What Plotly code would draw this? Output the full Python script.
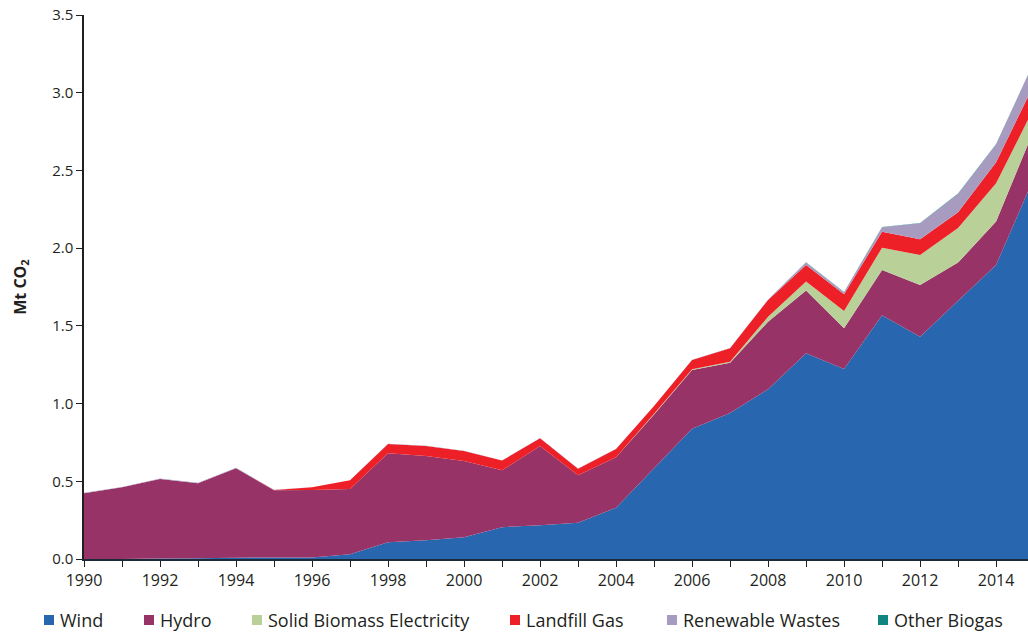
import plotly.graph_objects as go

years = list(range(1990, 2016))

wind = [0.000, 0.000, 0.003, 0.005, 0.008, 0.010, 0.010, 0.030, 0.107, 0.120,
        0.140, 0.205, 0.217, 0.234, 0.330, 0.584, 0.838, 0.940, 1.092, 1.324,
        1.223, 1.568, 1.430, 1.662, 1.892, 2.454]
hydro = [0.423, 0.461, 0.512, 0.482, 0.576, 0.432, 0.434, 0.420, 0.573, 0.543,
         0.491, 0.366, 0.510, 0.305, 0.324, 0.346, 0.378, 0.323, 0.435, 0.403,
         0.261, 0.292, 0.333, 0.245, 0.279, 0.309]
solid_biomass = [0, 0, 0, 0, 0, 0, 0, 0, 0, 0,
                 0, 0, 0, 0, 0, 0.004, 0.005, 0.006, 0.032, 0.058,
                 0.112, 0.143, 0.193, 0.223, 0.247, 0.140]
landfill_gas = [0, 0, 0, 0, 0, 0.002, 0.017, 0.056, 0.060, 0.064,
                0.064, 0.062, 0.050, 0.042, 0.054, 0.050, 0.059, 0.087, 0.108, 0.107,
                0.107, 0.103, 0.101, 0.101, 0.135, 0.152]
renewable_wastes = [0.003, 0.003, 0.003, 0.003, 0.003, 0.001, 0.001, 0.001, 0.001, 0.001,
                    0.001, 0.001, 0.001, 0.001, 0.001, 0.001, 0.002, 0.002, 0.002, 0.015,
                    0.013, 0.028, 0.103, 0.118, 0.115, 0.144]
other_biogas = [0, 0, 0, 0, 0, 0, 0, 0, 0, 0,
                0, 0, 0, 0, 0, 0, 0, 0, 0, 0.002,
                0.002, 0.002, 0.002, 0.002, 0.002, 0.002]

series_names = ["Wind", "Hydro", "Solid Biomass Electricity", "Landfill Gas",
                "Renewable Wastes", "Other Biogas"]
series_values = [wind, hydro, solid_biomass, landfill_gas, renewable_wastes, other_biogas]
series_colors = ["#2966B0", "#973366", "#B9D098", "#EE2027", "#A89BC0", "#0E8580"]

tick_years = years
tick_text = [str(y) if y % 2 == 0 else "" for y in years]
y_ticks = [0, 0.5, 1.0, 1.5, 2.0, 2.5, 3.0, 3.5]

# page layout (pixels)
W, H = 1028, 637
L, R, T, B = 84, 0, 15, 78
PW, PH = W - L - R, H - T - B

def px_x(p):
    return (p - L) / PW

def px_y(p):
    return (H - B - p) / PH

fig = go.Figure()
for name, vals, color in zip(series_names, series_values, series_colors):
    fig.add_trace(go.Scatter(
        x=years, y=vals, name=name, stackgroup="one", mode="none",
        fillcolor=color, showlegend=False, hoverinfo="x+y+name",
    ))

# legend row (square swatch + label) under the x axis
legend_left = [44, 144, 252, 510, 667, 878]
legend_cy = 620
shapes = []
annotations = []
for name, color, lx in zip(series_names, series_colors, legend_left):
    shapes.append(dict(
        type="rect", xref="paper", yref="paper",
        x0=px_x(lx), x1=px_x(lx + 10), y0=px_y(legend_cy + 5), y1=px_y(legend_cy - 5),
        fillcolor=color, line=dict(width=0),
    ))
    annotations.append(dict(
        text=name, xref="paper", yref="paper", x=px_x(lx + 14), y=px_y(legend_cy),
        xanchor="left", yanchor="middle", showarrow=False,
        font=dict(size=18, color="#231f20"),
    ))

font_family = "Open Sans, Noto Sans, sans-serif"
fig.update_layout(
    width=W, height=H,
    margin=dict(l=L, r=R, t=T, b=B),
    plot_bgcolor="white", paper_bgcolor="white",
    font=dict(family=font_family, size=15, color="#231f20"),
    showlegend=False,
    shapes=shapes,
    annotations=annotations,
    xaxis=dict(
        range=[1990, 2014.84], tickvals=tick_years, ticktext=tick_text,
        ticks="outside", ticklen=6, tickwidth=1, tickcolor="#231f20",
        showline=True, linecolor="#1c2b3a", linewidth=2,
        showgrid=False, zeroline=False, automargin=False,
        tickfont=dict(size=16),
    ),
    yaxis=dict(
        range=[0, 3.5], tickvals=y_ticks, tickformat=".1f",
        ticks="outside", ticklen=6, tickwidth=1, tickcolor="#231f20",
        showline=True, linecolor="#231f20", linewidth=1.5,
        showgrid=False, zeroline=False, automargin=False,
        tickfont=dict(size=15),
        title=dict(text="<b>Mt CO<sub>2</sub></b>", font=dict(size=16), standoff=22),
    ),
)

fig.write_html(
    "out.html",
    config={"displayModeBar": False},
    post_script="document.body.style.margin='0';document.body.style.overflow='hidden';",
)
